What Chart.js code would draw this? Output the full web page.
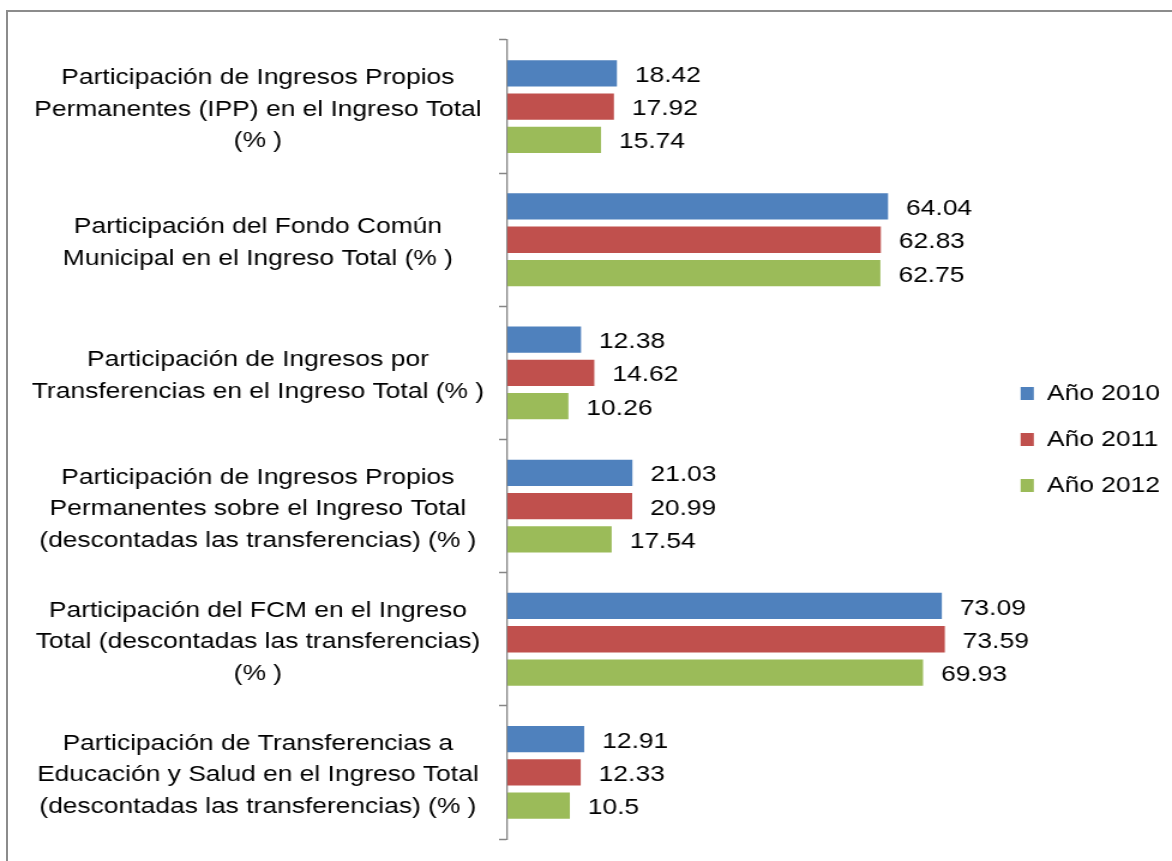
<!DOCTYPE html>
<html>
<head>
<meta charset="utf-8">
<script src="https://cdn.jsdelivr.net/npm/chart.js@4/dist/chart.umd.min.js"></script>
<style>
  html, body { margin: 0; padding: 0; background: #fff; overflow: hidden; }
  #wrap { position: absolute; left: 0; top: 0; width: 1172px; height: 861px; }
  #frame { position: absolute; left: 6px; top: 10px; width: 1200px; height: 900px;
           border-top: 2px solid #8c8c8c; border-left: 2px solid #8c8c8c; pointer-events: none; }
</style>
</head>
<body>
<div id="wrap">
  <!-- lienzo algo mas angosto, estirado a lo ancho por CSS -->
  <canvas id="grafico" width="977" height="861" style="width:1172px;height:861px"></canvas>
</div>
<div id="frame"></div>
<script>
const categorias = [
    ['Participación de Ingresos Propios', 'Permanentes (IPP) en el Ingreso Total', '(% )'],
    ['Participación del Fondo Común', 'Municipal en el Ingreso Total (% )'],
    ['Participación de Ingresos por', 'Transferencias en el Ingreso Total (% )'],
    ['Participación de Ingresos Propios', 'Permanentes sobre el Ingreso Total', '(descontadas las transferencias) (% )'],
    ['Participación del FCM en el Ingreso', 'Total (descontadas las transferencias)', '(% )'],
    ['Participación de Transferencias a', 'Educación y Salud en el Ingreso Total', '(descontadas las transferencias) (% )']
];
const anio2010 = [18.42, 64.04, 12.38, 21.03, 73.09, 12.91];
const anio2011 = [17.92, 62.83, 14.62, 20.99, 73.59, 12.33];
const anio2012 = [15.74, 62.75, 10.26, 17.54, 69.93, 10.5];

const fuente = "'Liberation Sans', Arial, sans-serif";

// escribe el valor al final de cada barra
const etiquetasValor = {
    id: 'etiquetasValor',
    afterDatasetsDraw(chart){
        const ctx = chart.ctx;
        ctx.save();
        ctx.font = '22px ' + fuente;
        ctx.fillStyle = '#000';
        ctx.textAlign = 'left';
        ctx.textBaseline = 'middle';
        chart.data.datasets.forEach((ds, i) => {
            chart.getDatasetMeta(i).data.forEach((bar, j) => {
                ctx.fillText(String(ds.data[j]), bar.x + 15, bar.y + 2.5);
            });
        });
        ctx.restore();
    }
};

const datos = {
    labels: categorias,
    datasets: [
        { label: 'Año 2010', data: anio2010, backgroundColor: '#4f81bd' },
        { label: 'Año 2011', data: anio2011, backgroundColor: '#c0504d' },
        { label: 'Año 2012', data: anio2012, backgroundColor: '#9bbb59' }
    ]
};

const config = {
    type: 'bar',
    data: datos,
    options: {
        indexAxis: 'y',
        responsive: false,
        animation: false,
        categoryPercentage: 0.75,
        barPercentage: 0.79,
        layout: {
            padding: { top: 40, bottom: 22, left: 0, right: 0 }
        },
        plugins: {
            legend: {
                position: 'right',
                labels: {
                    boxWidth: 11,
                    boxHeight: 13,
                    padding: 24,
                    color: '#000',
                    font: { family: fuente, size: 22 }
                }
            },
            tooltip: { enabled: false }
        },
        scales: {
            x: {
                display: false,
                min: 0,
                max: 81.5
            },
            y: {
                afterFit: (scale) => {
                    scale.width = 423;
                    scale.paddingTop = 0;
                    scale.paddingBottom = 0;
                },
                grid: {
                    drawOnChartArea: false,
                    tickLength: 7,
                    tickColor: '#868686',
                    tickWidth: 1.5
                },
                border: { color: '#868686', width: 1.3 },
                ticks: {
                    crossAlign: 'center',
                    padding: 12.5,
                    labelOffset: 3,
                    color: '#000',
                    font: { family: fuente, size: 22, lineHeight: '31.5px' }
                }
            }
        }
    },
    plugins: [etiquetasValor]
};

const myChart = new Chart(document.getElementById('grafico').getContext('2d'), config);
</script>
</body>
</html>
